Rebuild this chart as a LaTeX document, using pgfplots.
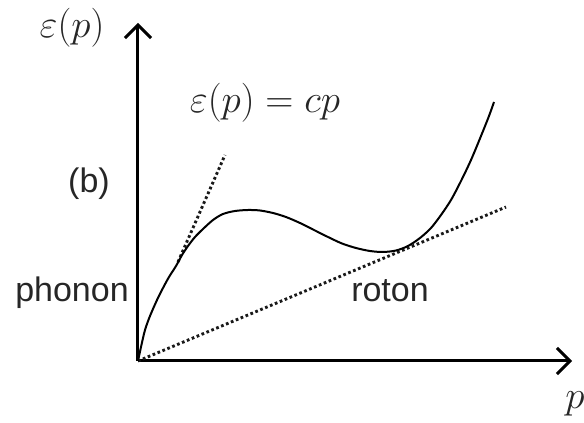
\RequirePackage{fix-cm}
\documentclass[border=0pt]{standalone}
\usepackage{fontspec}
\setmainfont{Liberation Sans}
\usepackage{pgfplots}
\pgfplotsset{compat=1.18}
\usetikzlibrary{arrows.meta}

% dispersion curve of superfluid helium (phonon-roton spectrum)
\pgfplotstableread{
x y
0 0
3 14
7 31
12 45
19 61
25 73
31 84
38 95
44 106
50 115
57 124
65 132
75 141
85 147
97 150
110 151
122 150.5
135 148
148 144
162 138
176 131
190 124
204 117.5
218 113
232 110
245 109
258 110.5
270 115
282 123
293 133
303 146
313 161
323 180
333 201
343 225
351 245
356 259
}\dispersion

\begin{document}
\begin{tikzpicture}
\useasboundingbox (-138pt,-62pt) rectangle (446pt,361pt);
\begin{axis}[
  at={(0,0)}, anchor=south west,
  scale only axis, width=434pt, height=338pt,
  xmin=0, xmax=434, ymin=0, ymax=338,
  axis lines=left,
  axis line style={line width=3pt, -{Straight Barb[length=13pt,width=26pt,line width=3pt]}},
  xtick=\empty, ytick=\empty,
  clip=false,
]
  % tangent lines: linear phonon branch and the Landau critical line
  \addplot[line width=2.9pt, dash pattern=on 2.7pt off 2.6pt, black!90]
    coordinates {(40,99) (87,206)};
  \addplot[line width=2.9pt, dash pattern=on 2.7pt off 2.6pt, black!90]
    coordinates {(0,0) (368,154)};
  % excitation spectrum
  \addplot[line width=2pt, black, smooth] table {\dispersion};

  \node[anchor=base, font=\fontsize{39}{44}\selectfont, black!85] at (axis cs:-66,323) {$\varepsilon(p)$};
  \node[anchor=base, font=\fontsize{39}{44}\selectfont, black!85] at (axis cs:127,248) {$\varepsilon(p) = cp$};
  \node[anchor=base, font=\fontsize{34}{40}\selectfont, black!85] at (axis cs:-49,168) {(b)};
  \node[anchor=base, font=\fontsize{34}{40}\selectfont, black!85] at (axis cs:-66,59) {phonon};
  \node[anchor=base, font=\fontsize{34}{40}\selectfont, black!85] at (axis cs:252,59) {roton};
  \node[anchor=base, font=\fontsize{39}{44}\selectfont, black!85] at (axis cs:437,-48) {$p$};
\end{axis}
\end{tikzpicture}
\end{document}
